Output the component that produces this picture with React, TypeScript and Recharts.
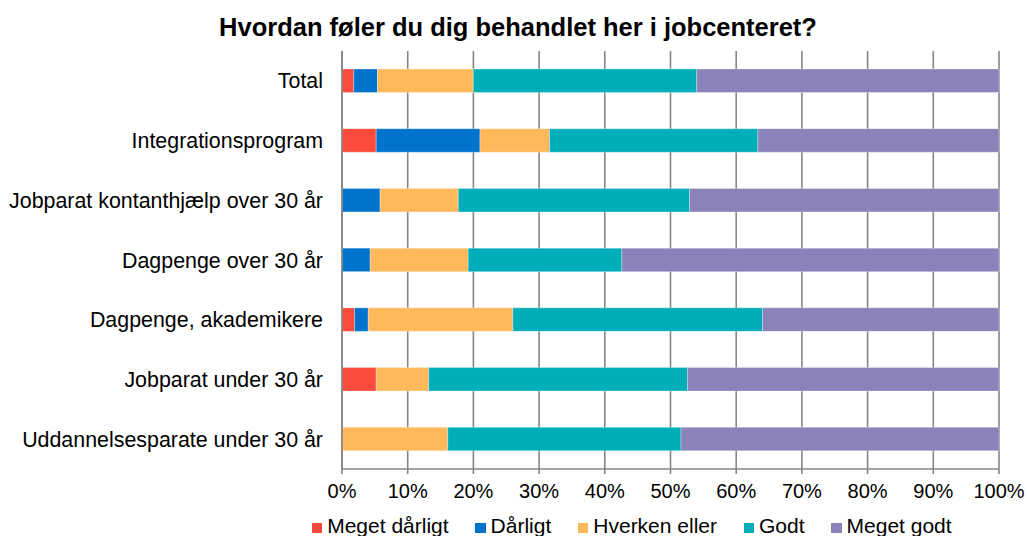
import React from "react";
import { BarChart, Bar, XAxis, YAxis, CartesianGrid, Legend } from "recharts";

const categories = [
  "Total",
  "Integrationsprogram",
  "Jobparat kontanthjælp over 30 år",
  "Dagpenge over 30 år",
  "Dagpenge, akademikere",
  "Jobparat under 30 år",
  "Uddannelsesparate under 30 år",
];
const megetDaarligt = [1.8, 5.2, 0, 0, 1.9, 5.2, 0];
const daarligt = [3.6, 15.8, 5.8, 4.3, 2.1, 0, 0];
const hverkenEller = [14.6, 10.6, 11.9, 14.9, 22.0, 8.0, 16.1];
const godt = [34.0, 31.7, 35.2, 23.4, 38.0, 39.4, 35.5];
const megetGodt = [46.0, 36.7, 47.1, 57.4, 36.0, 47.4, 48.4];
const xTicks = [0, 10, 20, 30, 40, 50, 60, 70, 80, 90, 100];

const seriesNames = ["Meget dårligt", "Dårligt", "Hverken eller", "Godt", "Meget godt"];
const seriesKeys = ["md", "d", "h", "g", "mg"];
const seriesColors = ["#FC4B3B", "#0074CD", "#FFB95A", "#00AEBA", "#8983BA"];

const data = categories.map((c, i) => ({
  name: c,
  md: megetDaarligt[i],
  d: daarligt[i],
  h: hverkenEller[i],
  g: godt[i],
  mg: megetGodt[i],
}));

const FONT = "'Liberation Sans', Arial, sans-serif";
const GRID = "#868686";

const LegendContent = () => (
  <div
    style={{
      display: "flex",
      alignItems: "center",
      fontFamily: FONT,
      fontSize: 21,
      lineHeight: "24px",
      color: "#000",
      paddingLeft: 311.7,
      paddingTop: 2,
      whiteSpace: "nowrap",
    }}
  >
    {seriesNames.map((n, i) => (
      <div key={n} style={{ display: "flex", alignItems: "center", marginRight: 26.5 }}>
        <span
          style={{
            display: "inline-block",
            width: 10.5,
            height: 10.5,
            background: seriesColors[i],
            marginRight: 5,
            position: "relative",
            top: 2,
          }}
        />
        <span>{n}</span>
      </div>
    ))}
  </div>
);

export default function App() {
  return (
    <div style={{ position: "absolute", left: 0, top: 0, width: 1027, height: 536, background: "#fff", overflow: "hidden" }}>
      <div
        style={{
          position: "absolute",
          left: 0,
          top: 12,
          width: 1036,
          textAlign: "center",
          fontFamily: FONT,
          fontWeight: "bold",
          fontSize: 25.5,
          lineHeight: "30px",
          color: "#000",
        }}
      >
        Hvordan føler du dig behandlet her i jobcenteret?
      </div>
      <BarChart
        width={1027}
        height={536}
        data={data}
        layout="vertical"
        margin={{ top: 51, right: 28, bottom: 0, left: 0 }}
        barSize={23.5}
      >
        <CartesianGrid horizontal={false} vertical={true} stroke={GRID} strokeWidth={1.6} />
        <XAxis
          type="number"
          domain={[0, 100]}
          ticks={xTicks}
          tickFormatter={(v: number) => `${v}%`}
          interval={0}
          height={43}
          tickSize={5}
          tickMargin={10}
          axisLine={{ stroke: GRID, strokeWidth: 1.6 }}
          tickLine={{ stroke: GRID, strokeWidth: 1.6 }}
          tick={{ fill: "#000", fontSize: 20, fontFamily: FONT }}
        />
        <YAxis
          type="category"
          dataKey="name"
          width={342}
          tickSize={0}
          tickMargin={19}
          interval={0}
          axisLine={{ stroke: GRID, strokeWidth: 1.6 }}
          tickLine={false}
          tick={{ fill: "#000", fontSize: 21.4, fontFamily: FONT }}
        />
        <Legend verticalAlign="bottom" align="left" height={24} content={<LegendContent />} />
        {seriesKeys.map((k, i) => (
          <Bar
            key={k}
            dataKey={k}
            name={seriesNames[i]}
            stackId="a"
            fill={seriesColors[i]}
            stroke="#ffffff"
            strokeOpacity={0.5}
            strokeWidth={0.6}
            isAnimationActive={false}
          />
        ))}
      </BarChart>
    </div>
  );
}
